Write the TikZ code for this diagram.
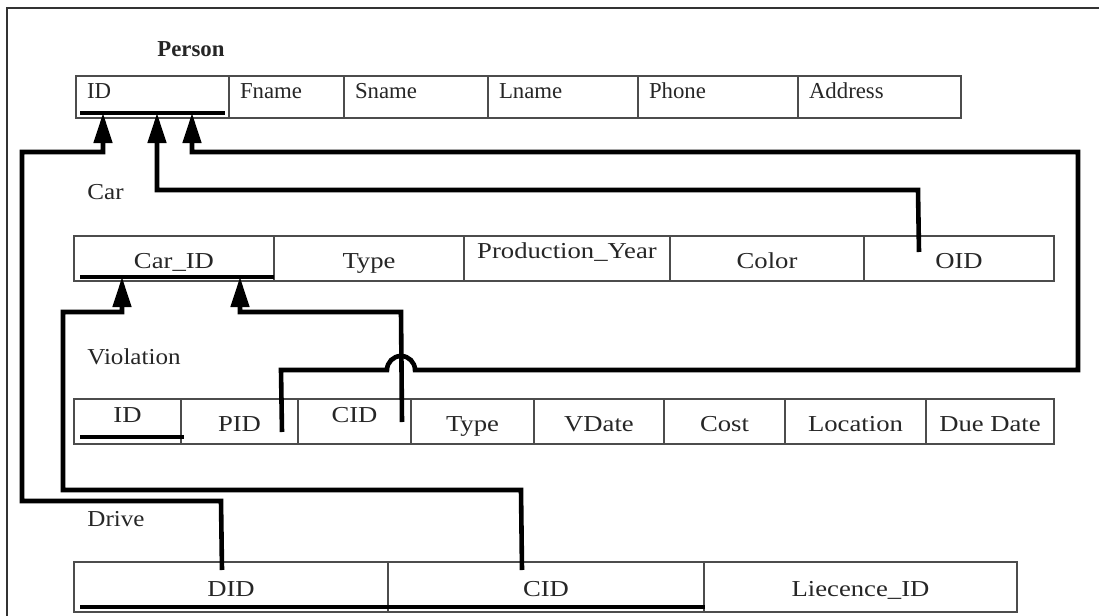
\documentclass[tikz,border=0pt]{standalone}
\usepackage{fontspec}
\setmainfont{Liberation Serif}
\newfontfamily\tabfont[FakeStretch=1.17]{Liberation Serif}
\newfontfamily\lblfont[FakeStretch=1.1]{Liberation Serif}
\usetikzlibrary{arrows.meta}

\begin{document}
\begin{tikzpicture}[
    x=0.5pt, y=-0.5pt,
    frame/.style={line width=1pt, black!80},
    title/.style={
      inner sep=0pt, text=black!85,
      font=\fontsize{11.4pt}{13pt}\selectfont\bfseries
    },
    tname/.style={
      inner sep=0pt, anchor=west, text=black!85,
      font={\lblfont\fontsize{11.4pt}{13pt}\selectfont}
    },
    pcell/.style={
      draw=black!70, line width=1pt, anchor=north west,
      inner xsep=5.5pt, inner ysep=0pt, minimum height=21pt,
      text width=#1, align=left, text height=8pt, text depth=7pt,
      text=black!85, font=\fontsize{11.4pt}{13pt}\selectfont
    },
    cell/.style={
      draw=black!70, line width=1pt, anchor=north west,
      inner sep=0pt, minimum width=#1, minimum height=22.5pt,
      text height=10.5pt, text depth=1pt,
      text=black!85, font={\tabfont\fontsize{11.4pt}{13pt}\selectfont}
    },
    dcell/.style={cell=#1, minimum height=25pt},
    key/.style={line width=2pt, black},
    fk/.style={line width=2.3pt, black, -{Triangle[length=15pt, width=9pt]}}
  ]
    \useasboundingbox (0,0) rectangle (1099,616);
    \draw[frame] (1099,8) -- (7,8) -- (7,616);

    \node[title] (t-person) at (191,49) {Person};
    \node[pcell=65.5pt] (p-id)    at (75,75)  {ID};
    \node[pcell=46.5pt] (p-fname) at (228,75) {Fname};
    \node[pcell=61pt]   (p-sname) at (343,75) {Sname};
    \node[pcell=64pt]   (p-lname) at (487,75) {Lname};
    \node[pcell=69pt]   (p-phone) at (637,75) {Phone};
    \node[pcell=70.5pt] (p-addr)  at (797,75) {Address};

    \node[tname] (t-car) at (87,192) {Car};
    \node[cell=100pt]  (c-carid) at (73,235)  {Car\_ID};
    \node[cell=95pt]   (c-type)  at (273,235) {Type};
    \node[cell=103pt]  (c-year)  at (463,235) {\raisebox{5pt}{Production\_Year}};
    \node[cell=97pt]   (c-color) at (669,235) {Color};
    \node[cell=95pt]   (c-oid)   at (863,235) {OID};

    \node[tname] (t-viol) at (87,357) {Violation};
    \node[cell=53.5pt] (v-id)    at (73,398)  {\raisebox{4.5pt}{ID}};
    \node[cell=58.5pt] (v-pid)   at (180,398) {PID};
    \node[cell=56.5pt] (v-cid)   at (297,398) {\raisebox{4.5pt}{CID}};
    \node[cell=61.5pt] (v-type)  at (410,398) {Type};
    \node[cell=65pt]   (v-vdate) at (533,398) {VDate};
    \node[cell=60.5pt] (v-cost)  at (663,398) {Cost};
    \node[cell=70.5pt] (v-loc)   at (784,398) {Location};
    \node[cell=64pt]   (v-due)   at (925,398) {Due Date};

    \node[tname] (t-drive) at (87,519) {Drive};
    \node[dcell=157pt]   (d-did) at (73,561)  {DID};
    \node[dcell=158pt]   (d-cid) at (387,561) {CID};
    \node[dcell=156.5pt] (d-lic) at (703,561) {Liecence\_ID};

    \draw[key] ([xshift=2.5pt,yshift=3pt]p-id.south west) -- ([xshift=-2.5pt,yshift=3pt]p-id.south east);
    \draw[key] ([xshift=3.5pt,yshift=2.5pt]c-carid.south west) -- ([xshift=-0.5pt,yshift=2.5pt]c-carid.south east);
    \draw[key] ([xshift=3.5pt,yshift=4pt]v-id.south west) -- ([xshift=1pt,yshift=4pt]v-id.south east);
    \draw[key] ([xshift=3.5pt,yshift=3pt]d-did.south west) -- ([yshift=3pt]d-cid.south east);

    \coordinate (pk1) at (103,113);
    \coordinate (pk2) at (157,113);
    \coordinate (pk3) at (192,113);
    \coordinate (ck1) at (122,277);
    \coordinate (ck2) at (240,277);

    \draw[fk] ([xshift=-4.5pt,yshift=-4.5pt]d-did.north) -- (221,501) -- (22,501) -- (22,152) -- (103,152) -- (pk1);
    \draw[fk] ([xshift=-20pt,yshift=-8.5pt]c-oid.north) -- (918,190) -- (157,190) -- (pk2);
    \draw[fk] ([xshift=21.25pt,yshift=6.5pt]v-pid.south) -- (281,370) -- (387,370)
      arc[start angle=180, end angle=0, radius=7pt] -- (1078,370) -- (1078,152) -- (192,152) -- (pk3);
    \draw[fk] ([xshift=23.75pt,yshift=11.5pt]v-cid.south) -- (401,312) -- (240,312) -- (ck2);
    \draw[fk] ([xshift=-12pt,yshift=-4.5pt]d-cid.north) -- (521,490) -- (63,490) -- (63,312) -- (122,312) -- (ck1);
  \end{tikzpicture}
\end{document}
